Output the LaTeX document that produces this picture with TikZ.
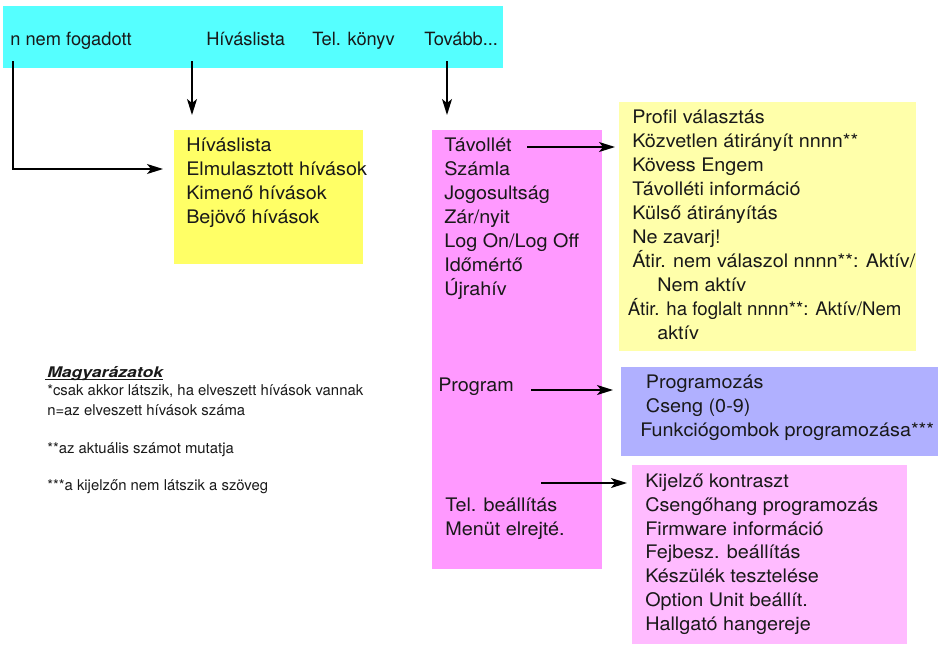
\documentclass[tikz,border=0pt]{standalone}
\usepackage{fontspec}
\setmainfont{TeX Gyre Heros}
\newfontfamily\boxfont[FakeStretch=1.06]{TeX Gyre Heros}
\usetikzlibrary{arrows.meta}
\definecolor{barcyan}{RGB}{85,255,255}
\definecolor{hlyellow}{RGB}{255,255,102}
\definecolor{telmagenta}{RGB}{255,153,255}
\definecolor{tavyellow}{RGB}{255,255,170}
\definecolor{progblue}{RGB}{176,176,255}
\definecolor{beallpink}{RGB}{255,187,255}
\definecolor{txtgrey}{RGB}{25,25,25}

\begin{document}
\begin{tikzpicture}[x=0.75pt,y=0.75pt,yscale=-1,xscale=1,
  menubox/.style={anchor=north west,inner sep=0pt,outer sep=0pt},
  bartext/.style={anchor=base west,inner sep=0pt,text=txtgrey,font=\fontsize{13.7}{16}\selectfont},
  item/.style={anchor=base west,inner sep=0pt,text=txtgrey,font=\boxfont\fontsize{14}{16}\selectfont},
  note/.style={anchor=base west,inner sep=0pt,text=txtgrey,font=\fontsize{11.15}{13}\selectfont},
  arr/.style={line width=1.1pt,-{Stealth[length=12pt,width=7.5pt,inset=3pt]}}]
\path[use as bounding box] (0,0) rectangle (938,644);

%Boxes
\node[menubox,fill=barcyan,minimum width=375pt,minimum height=46.5pt] (bar) at (3,6) {};
\node[menubox,fill=hlyellow,minimum width=141.75pt,minimum height=100.5pt] (hlbox) at (174,130) {};
\node[menubox,fill=telmagenta,minimum width=127.5pt,minimum height=329.25pt] (telbox) at (432,130) {};
\node[menubox,fill=tavyellow,minimum width=222.75pt,minimum height=186.75pt] (tavbox) at (619,102) {};
\node[menubox,fill=progblue,minimum width=237.75pt,minimum height=66.75pt] (progbox) at (621,367) {};
\node[menubox,fill=beallpink,minimum width=206.25pt,minimum height=134.25pt] (beallbox) at (632,465) {};

%Top bar texts
\node[bartext] (nfog) at (10,45) {n nem fogadott};
\node[bartext] (hlista) at (206,45) {Híváslista};
\node[bartext] (konyv) at (312,45) {Tel. könyv};
\node[bartext] (tovabb) at (424,45) {Tovább...};

%Call list menu
\foreach \t [count=\i] in {Híváslista,Elmulasztott hívások,Kimenő hívások,Bejövő hívások}
  \node[item] (hl\i) at (186,{151.5+24*(\i-1)}) {\t};

%Phone book menu
\foreach \t [count=\i] in {Távollét,Számla,Jogosultság,Zár/nyit,Log On/Log Off,Időmértő,Újrahív}
  \node[item] (tel\i) at (444,{151.5+24*(\i-1)}) {\t};
\node[item] (telprog) at (438,391.5) {Program};
\node[item] (telbeall) at (445,511.5) {Tel. beállítás};
\node[item] (telrejt) at (445,535.5) {Menüt elrejté.};

%Absence submenu
\foreach \t [count=\i] in {Profil választás,Közvetlen átirányít nnnn**,Kövess Engem,Távolléti információ,Külső átirányítás,Ne zavarj!}
  \node[item] (tav\i) at (632,{123.3+24*(\i-1)}) {\t};
\node[item] (tav7) at (632,267.3) {Átir. nem válaszol nnnn**: Aktív/};
\node[item] (tav8) at (657,291.3) {Nem aktív};
\node[item,font=\fontsize{14}{16}\selectfont] (tav9) at (627.7,315.3) {Átir. ha foglalt nnnn**: Aktív/Nem};
\node[item] (tav10) at (657,339.3) {aktív};

%Program submenu
\node[item] (prog1) at (645.7,388.5) {Programozás};
\node[item] (prog2) at (645.7,412.2) {Cseng (0-9)};
\node[item] (prog3) at (640,436) {Funkciógombok programozása***};

%Settings submenu
\foreach \t [count=\i] in {Kijelző kontraszt,Csengőhang programozás,Firmware információ,Fejbesz. beállítás,Készülék tesztelése,Option Unit beállít.,Hallgató hangereje}
  \node[item] (beall\i) at (645,{487.7+23.72*(\i-1)}) {\t};

%Legend
\node[note,font=\fontsize{11}{13}\selectfont\bfseries\itshape] (magy) at (47,377) {\scalebox{1.2}[1]{Magyarázatok}};
\draw[line width=1pt,txtgrey] (45,379.3) -- (magy.base east |- 0,379.3);
\node[note] (magy1) at (47,395) {*csak akkor látszik, ha elveszett hívások vannak};
\node[note] (magy2) at (47,415) {n=az elveszett hívások száma};
\node[note] (magy3) at (47,453.3) {**az aktuális számot mutatja};
\node[note] (magy4) at (47,490) {***a kijelzőn nem látszik a szöveg};

%Connectors
\coordinate (c1) at (13,61);
\coordinate (c2) at (192,61);
\coordinate (c3) at (447,61);
\coordinate (c4) at (527,147);
\coordinate (c5) at (531,390);
\coordinate (c6) at (541,483);
\draw[arr,shorten >=8.25pt] (c1) |- (hlbox.west |- 0,169);
\draw[arr,shorten >=11.25pt] (c2) -- (c2 |- hlbox.north);
\draw[arr,shorten >=11.25pt] (c3) -- (c3 |- telbox.north);
\draw[arr,shorten >=3pt] (c4) -- (c4 -| tavbox.west);
\draw[arr,shorten >=6pt] (c5) -- (c5 -| progbox.west);
\draw[arr,shorten >=3.75pt] (c6) -- (c6 -| beallbox.west);
\end{tikzpicture}
\end{document}
